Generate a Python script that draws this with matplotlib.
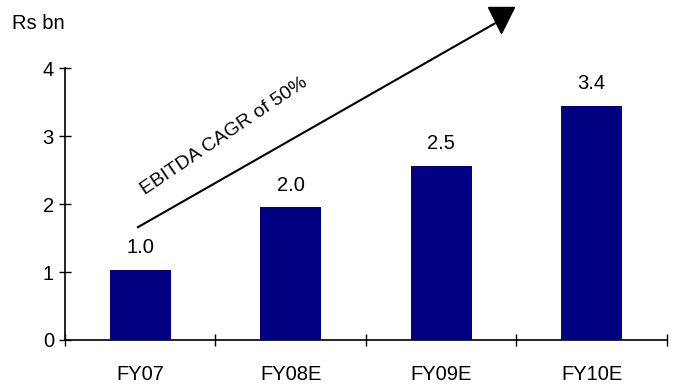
import matplotlib.pyplot as plt
from matplotlib.ticker import FixedLocator

plt.rcParams['font.family'] = ['Liberation Sans', 'DejaVu Sans']

# Data
years = ['FY07', 'FY08E', 'FY09E', 'FY10E']
ebitda = [1.03, 1.95, 2.56, 3.45]
labels = ['1.0', '2.0', '2.5', '3.4']

fig = plt.figure(figsize=(6.77, 3.85), dpi=100)
ax = fig.add_axes([0.096, 0.117, 0.889, 0.706])

x = list(range(len(years)))
ax.bar(x, ebitda, width=0.405, color='#000080')
for xi, v, lab in zip(x, ebitda, labels):
    ax.annotate(lab, (xi, v), xytext=(0, 16), textcoords='offset points',
                ha='center', va='center', fontsize=14.5)

ax.set_xlim(-0.5, 3.5)
ax.set_ylim(0, 4)
ax.set_yticks([0, 1, 2, 3, 4])
ax.tick_params(axis='y', direction='inout', length=8, width=1, labelsize=14.5, pad=4)

# boundaries get the tick marks, categories get the labels
ax.xaxis.set_major_locator(FixedLocator([-0.5, 0.5, 1.5, 2.5, 3.5]))
ax.xaxis.set_major_formatter(plt.NullFormatter())
ax.xaxis.set_minor_locator(FixedLocator(x))
ax.set_xticklabels(years, minor=True)
ax.tick_params(axis='x', which='major', direction='inout', length=9, width=1)
ax.tick_params(axis='x', which='minor', length=0, labelsize=14.5, pad=18)

for s in ['top', 'right']:
    ax.spines[s].set_visible(False)
for s in ['left', 'bottom']:
    ax.spines[s].set_linewidth(1.2)

# growth arrow
ax.plot([-0.015, 2.39], [1.66, 4.7], color='black', lw=1.5, clip_on=False)
ax.plot([2.395], [4.71], marker='v', markersize=19, color='black', clip_on=False)
ax.text(0.56, 3.0, 'EBITDA CAGR of 50%', rotation=34, fontsize=14,
        ha='center', va='center', rotation_mode='anchor')

fig.text(0.018, 0.94, 'Rs bn', fontsize=14.5, va='center', ha='left')

fig.savefig('out.png', dpi=100)
